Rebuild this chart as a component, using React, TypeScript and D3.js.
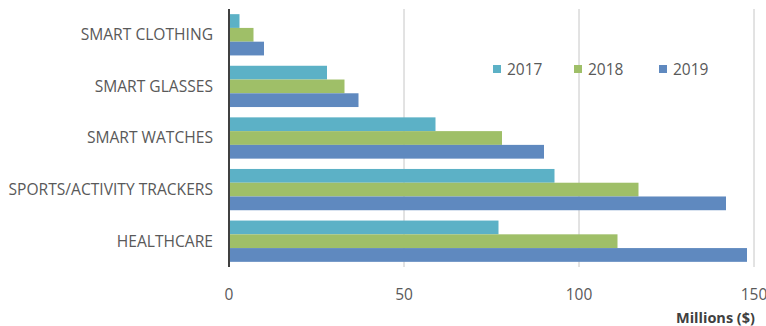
import React from "react";
import * as d3 from "d3";

const categories = ["SMART CLOTHING", "SMART GLASSES", "SMART WATCHES", "SPORTS/ACTIVITY TRACKERS", "HEALTHCARE"];
const seriesNames = ["2017", "2018", "2019"];
const values2017 = [3, 28, 59, 93, 77];
const values2018 = [7, 33, 78, 117, 111];
const values2019 = [10, 37, 90, 142, 148];
const xTicks = [0, 50, 100, 150];
const colors = ["#5cb1c6", "#9fbf68", "#5f89bf"];

const W = 766, H = 326;
const left = 229, right = 754, top = 9, bottom = 267;

export default function App() {
  const series = [values2017, values2018, values2019];
  const x = d3.scaleLinear().domain([0, 150]).range([left, right]);
  const y = d3.scaleBand().domain(categories).range([top, bottom]).paddingInner(0.2).paddingOuter(0.1);
  const inner = d3.scaleBand().domain(seriesNames).range([0, y.bandwidth()]);
  const font = "'Open Sans', sans-serif";
  const legendX = [493, 574, 659];
  return (
    <svg width={W} height={H} style={{ position: "absolute", left: 0, top: 0, background: "#fff" }}>
      {xTicks.slice(1).map((t) => (
        <line key={t} x1={x(t)} x2={x(t)} y1={top} y2={bottom} stroke="#c6c6c6" strokeWidth={1} />
      ))}
      {categories.map((c, i) =>
        series.map((s, j) => (
          <rect key={c + j} x={x(0)} y={(y(c) as number) + (inner(seriesNames[j]) as number)}
            width={x(s[i]) - x(0)} height={inner.bandwidth()} fill={colors[j]} />
        ))
      )}
      <line x1={x(0)} x2={x(0)} y1={top} y2={bottom} stroke="#404040" strokeWidth={2} />
      {categories.map((c) => (
        <text key={c} x={213} y={(y(c) as number) + y.bandwidth() / 2} dy="0.35em" textAnchor="end"
          fontFamily={font} fontSize={15.6} fill="#595959">{c}</text>
      ))}
      {xTicks.map((t) => (
        <text key={t} x={x(t)} y={300} textAnchor="middle" fontFamily={font} fontSize={15.5} fill="#595959">{t}</text>
      ))}
      <text x={755} y={323} textAnchor="end" fontFamily={font} fontSize={14.5} fontWeight="bold" fill="#404040">Millions ($)</text>
      {seriesNames.map((n, j) => (
        <g key={n}>
          <rect x={legendX[j]} y={65} width={8} height={8} fill={colors[j]} />
          <text x={legendX[j] + 14} y={75} fontFamily={font} fontSize={15.5} fill="#595959">{n}</text>
        </g>
      ))}
    </svg>
  );
}
